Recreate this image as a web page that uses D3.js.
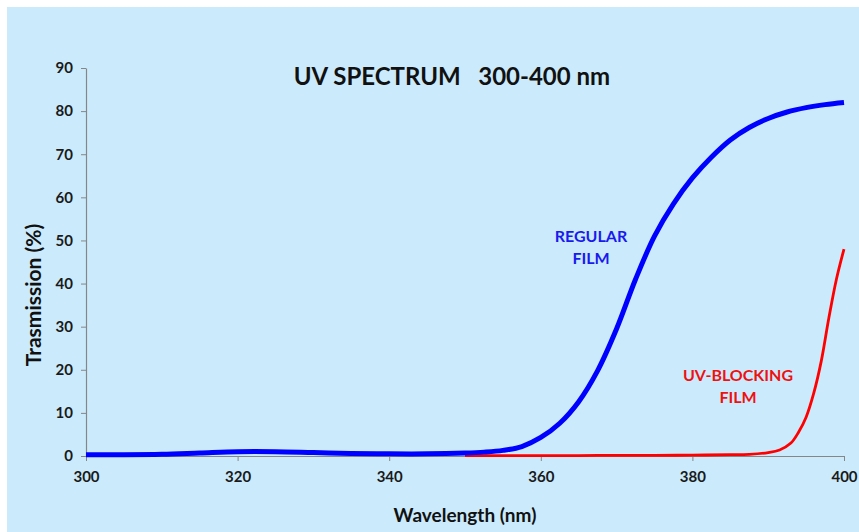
<!DOCTYPE html>
<html lang="en">
<head>
  <meta charset="utf-8">
  <title>UV Spectrum 300-400 nm</title>
  <script src="https://d3js.org/d3.v7.min.js"></script>
  <style>
  body { margin: 0; background: #fff; }
  text { font-family: Lato, "Open Sans", sans-serif; font-weight: bold; }
  </style>
</head>
<body>
<script>
// wavelength (nm) and transmission (%)
var blueWl  = [300, 305, 310, 315, 320, 325, 330, 335, 340, 345, 350, 352.5, 355, 357.5, 360, 362.5, 365, 367.5, 370, 372.5, 375, 377.5, 380, 382.5, 385, 387.5, 390, 392.5, 395, 397.5, 400];
var blueVal = [0.3, 0.3, 0.4, 0.7, 1.0, 1.0, 0.8, 0.6, 0.5, 0.5, 0.7, 0.9, 1.3, 2.2, 4.3, 7.6, 12.6, 19.8, 29.5, 41.0, 51.0, 58.5, 64.5, 69.3, 73.3, 76.2, 78.3, 79.8, 80.8, 81.5, 82.0];

var redWl  = [350, 355, 360, 365, 370, 375, 380, 385, 387.5, 390, 391.5, 393, 394, 395, 396, 397, 398, 399, 400];
var redVal = [0.1, 0.1, 0.1, 0.1, 0.15, 0.15, 0.2, 0.3, 0.4, 0.8, 1.4, 3.0, 5.5, 9.0, 14.5, 22, 32, 41, 48];

var xTicks = [300, 320, 340, 360, 380, 400];
var yTicks = [0, 10, 20, 30, 40, 50, 60, 70, 80, 90];

var w = 859, h = 532;
var margin = {left: 86, right: 15, top: 68, bottom: 76};

var svg = d3.select("body").append("svg")
    .attr("width", w)
    .attr("height", h);

// light blue panel
svg.append("rect")
    .attr("x", 7).attr("y", 7)
    .attr("width", w - 7).attr("height", h - 7)
    .attr("fill", "#cbebfd");

var x = d3.scaleLinear().domain([300, 400]).range([margin.left, w - margin.right]);
var y = d3.scaleLinear().domain([0, 90]).range([h - margin.bottom, margin.top]);

// axes
var xAxis = svg.append("g")
    .attr("transform", "translate(0," + y(0) + ")")
    .call(d3.axisBottom(x).tickValues(xTicks).tickSize(5).tickPadding(10).tickSizeOuter(0));
var yAxis = svg.append("g")
    .attr("transform", "translate(" + x(300) + ",0)")
    .call(d3.axisLeft(y).tickValues(yTicks).tickSize(5).tickPadding(8).tickSizeOuter(0));

[xAxis, yAxis].forEach(function(a) {
  a.select(".domain").attr("stroke", "#868686").attr("stroke-width", 1.2);
  a.selectAll(".tick line").attr("stroke", "#868686");
  a.selectAll(".tick text")
      .attr("fill", "#1a1a1a")
      .style("font-size", "15px");
});

// curves
var line = d3.line()
    .x(function(d) { return x(d[0]); })
    .y(function(d) { return y(d[1]); })
    .curve(d3.curveCatmullRom.alpha(0.5));

svg.append("path")
    .datum(d3.zip(redWl, redVal))
    .attr("fill", "none")
    .attr("stroke", "#ff0000")
    .attr("stroke-width", 2.8)
    .attr("d", line);

svg.append("path")
    .datum(d3.zip(blueWl, blueVal))
    .attr("fill", "none")
    .attr("stroke", "#0000ff")
    .attr("stroke-width", 5)
    .attr("d", line);

// title
svg.append("text")
    .attr("x", 452).attr("y", 85)
    .attr("text-anchor", "middle")
    .attr("fill", "#111")
    .style("font-size", "24px")
    .style("white-space", "pre")
    .text("UV SPECTRUM   300-400 nm");

// labels on curves
function label(lines, cx, cy, color) {
  lines.forEach(function(t, i) {
    svg.append("text")
        .attr("x", cx).attr("y", cy + i * 22)
        .attr("text-anchor", "middle")
        .attr("fill", color)
        .style("font-size", "16px")
        .text(t);
  });
}
label(["REGULAR", "FILM"], 591, 242, "#1a1aee");
label(["UV-BLOCKING", "FILM"], 738, 381, "#f01010");

// axis titles
svg.append("text")
    .attr("x", 465).attr("y", 522)
    .attr("text-anchor", "middle")
    .attr("fill", "#111")
    .style("font-size", "19px")
    .text("Wavelength (nm)");

svg.append("text")
    .attr("transform", "translate(41,295) rotate(-90)")
    .attr("text-anchor", "middle")
    .attr("fill", "#111")
    .style("font-size", "21px")
    .text("Trasmission (%)");
</script>
</body>
</html>
